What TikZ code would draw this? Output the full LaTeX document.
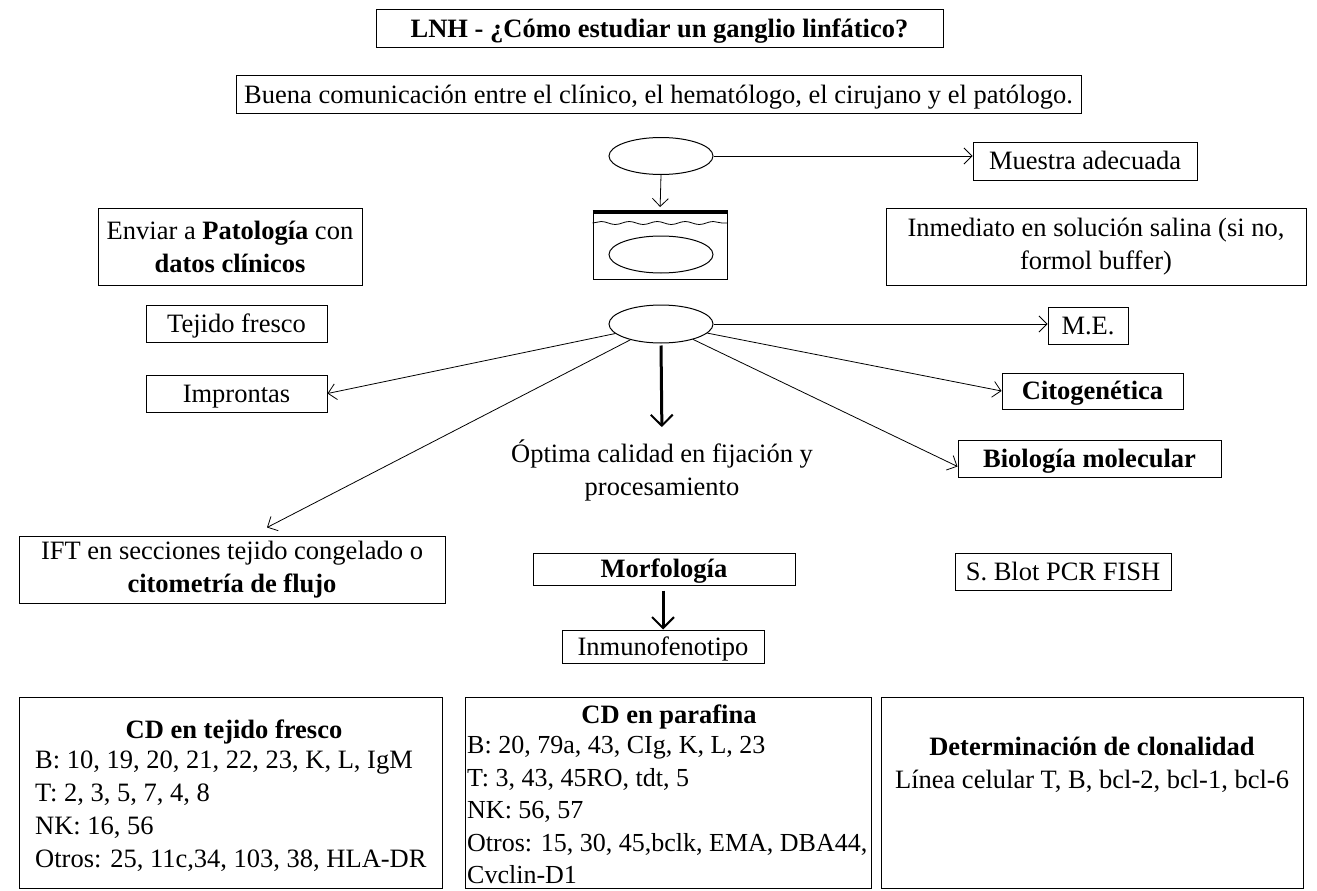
\documentclass[tikz,border=0pt]{standalone}
\usepackage{fontspec}
\setmainfont{Liberation Serif}
\usetikzlibrary{arrows.meta,shapes.geometric,calc,decorations.pathmorphing}

\begin{document}
\begin{tikzpicture}[x=1pt,y=-1pt,
  every node/.style={font=\fontsize{26.5}{33}\selectfont, inner sep=0pt},
  sz/.style 2 args={minimum width=#1pt, minimum height=#2pt},
  box/.style={draw, line width=1pt, align=center},
  one/.style={text height=20pt, text depth=3pt},
  oval/.style={draw, ellipse, line width=1pt, minimum width=104pt, minimum height=37pt},
  thinarrow/.style={line width=0.8pt, -{Straight Barb[length=8pt,width=16pt]}},
  thickarrow/.style={line width=3pt, -{Straight Barb[length=11pt,width=22pt,line width=2pt]}},
]
\useasboundingbox (0,0) rectangle (1317,891);

% heading and general advice
\node[box, one, sz={567}{38}] (title) at (659.5,29) {\textbf{LNH - ¿Cómo estudiar un ganglio linfático?}};
\node[box, one, sz={845}{37}] (buena) at (658.5,94.5) {Buena comunicación entre el clínico, el hematólogo, el cirujano y el patólogo.};

% lymph node sample and its container
\node[oval] (e1) at (661,156) {};
\node[box, one, sz={224}{38}] (muestra) at (1085,161) {Muestra adecuada};
\node[box, sz={134}{67}] (cont) at (660,246) {};
\draw[line width=3.5pt] (cont.north west) -- (cont.north east);
\draw[line width=0.8pt, decorate, decoration={snake, amplitude=1.5pt, segment length=28pt}]
  ($(cont.north west)+(0,11)$) -- ($(cont.north east)+(0,11)$);
\node[oval] (e3) at (661,254.5) {};
\node[box, sz={264}{77}] (enviar) at (230,246.5) {Enviar a \textbf{Patología} con\\\textbf{datos clínicos}};
\node[box, sz={420}{77}] (inmed) at (1096,246.5) {Inmediato en solución salina (si no,\\formol buffer)};

\draw[thinarrow] (e1.east) -- (e1.east -| muestra.west);
\draw[thinarrow, shorten >=5pt] (e1.south) -- (cont.north);

% processing of the node
\node[box, one, sz={181}{37}] (tejido) at (236.5,323.5) {Tejido fresco};
\node[box, one, sz={181}{37}] (impr) at (236.5,393.5) {Improntas};
\node[oval, minimum height=38pt] (e2) at (661,324) {};
\node[box, one, sz={80}{37}] (me) at (1088,325.5) {M.E.};
\node[box, one, sz={181}{36}] (cito) at (1092.5,391) {\textbf{Citogenética}};
\node[box, one, sz={263}{37}] (biol) at (1089.5,458.5) {\textbf{Biología molecular}};
\node[align=center] (opt) at (662,470) {Óptima calidad en fijación y\\procesamiento};
\node[box, sz={426}{67}] (ift) at (232,569.5) {IFT en secciones tejido congelado o\\\textbf{citometría de flujo}};
\node[box, one, sz={262}{32}] (morf) at (664,569) {\textbf{Morfología}};
\node[box, one, sz={216}{37}] (sblot) at (1063,571.5) {S. Blot PCR FISH};
\node[box, one, sz={202}{33}] (inm) at (663,646.5) {Inmunofenotipo};

\draw[thinarrow] (e2) -- (impr.east);
\draw[thinarrow] (e2) -- ($(ift.north)+(35,-8)$);
\draw[thinarrow] (e2.east) -- (e2.east -| me.west);
\draw[thinarrow] (e2) -- (cito.west);
\draw[thinarrow] (e2) -- ($(biol.west)+(0,8)$);
\draw[thickarrow, shorten <=2pt, shorten >=12pt] (e2.south) -- (opt.north);
\draw[thickarrow, shorten <=5pt] (inm.north |- morf.south) -- (inm.north);

% antibody panels
\node[box, sz={423}{191}] (cd1) at (230.5,792.5) {};
\node (cd1t) at (234,732) {\textbf{CD en tejido fresco}};
\node[align=left, anchor=west] (cd1b) at (35,811.5) {B: 10, 19, 20, 21, 22, 23, K, L, IgM\\T: 2, 3, 5, 7, 4, 8\\NK: 16, 56\\Otros: 25, 11c,34, 103, 38, HLA-DR};

\node[box, sz={406}{191}] (cd2) at (668,792.5) {};
\node (cd2t) at (669,717) {\textbf{CD en parafina}};
\node[align=left, anchor=west, font=\fontsize{26}{32.5}\selectfont] (cd2b) at (467,810) {B: 20, 79a, 43, CIg, K, L, 23\\T: 3, 43, 45RO, tdt, 5\\NK: 56, 57\\Otros: 15, 30, 45,bclk, EMA, DBA44,\\Cvclin-D1};

\node[box, sz={422}{191}] (cd3) at (1092,792.5) {};
\node[align=center] (cd3t) at (1092,764.5) {\textbf{Determinación de clonalidad}\\Línea celular T, B, bcl-2, bcl-1, bcl-6};
\end{tikzpicture}
\end{document}
